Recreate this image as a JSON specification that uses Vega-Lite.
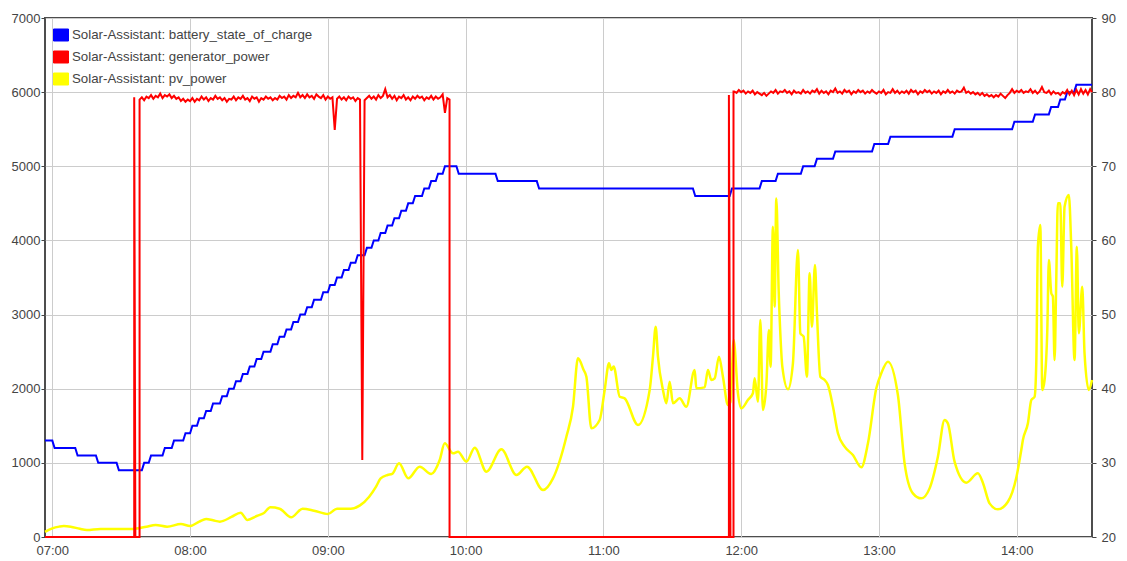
{
  "$schema": "https://vega.github.io/schema/vega-lite/v6.json",
  "description": "Solar-Assistant: battery state of charge, generator power and PV power through the day.",
  "width": 1047,
  "height": 519,
  "autosize": {"type": "none"},
  "padding": {"left": 45, "top": 18, "right": 35, "bottom": 24},
  "datasets": {
    "soc": [
      {"t": "06:56:49", "v": 33}, {"t": "07:00:00", "v": 33}, {"t": "07:01:00", "v": 32}, {"t": "07:10:00", "v": 32},
      {"t": "07:11:00", "v": 31}, {"t": "07:19:00", "v": 31}, {"t": "07:20:00", "v": 30}, {"t": "07:28:00", "v": 30},
      {"t": "07:29:00", "v": 29}, {"t": "07:39:00", "v": 29}, {"t": "07:40:00", "v": 30}, {"t": "07:42:00", "v": 30},
      {"t": "07:43:00", "v": 31}, {"t": "07:48:00", "v": 31}, {"t": "07:49:00", "v": 32}, {"t": "07:52:00", "v": 32},
      {"t": "07:53:00", "v": 33}, {"t": "07:57:00", "v": 33}, {"t": "07:58:00", "v": 34}, {"t": "08:00:00", "v": 34},
      {"t": "08:01:00", "v": 35}, {"t": "08:03:00", "v": 35}, {"t": "08:04:00", "v": 36}, {"t": "08:06:00", "v": 36},
      {"t": "08:07:00", "v": 37}, {"t": "08:09:00", "v": 37}, {"t": "08:10:00", "v": 38}, {"t": "08:13:00", "v": 38},
      {"t": "08:14:00", "v": 39}, {"t": "08:16:00", "v": 39}, {"t": "08:17:00", "v": 40}, {"t": "08:19:00", "v": 40},
      {"t": "08:20:00", "v": 41}, {"t": "08:22:00", "v": 41}, {"t": "08:23:00", "v": 42}, {"t": "08:25:00", "v": 42},
      {"t": "08:26:00", "v": 43}, {"t": "08:28:00", "v": 43}, {"t": "08:29:00", "v": 44}, {"t": "08:31:00", "v": 44},
      {"t": "08:32:00", "v": 45}, {"t": "08:35:00", "v": 45}, {"t": "08:36:00", "v": 46}, {"t": "08:38:00", "v": 46},
      {"t": "08:39:00", "v": 47}, {"t": "08:41:00", "v": 47}, {"t": "08:42:00", "v": 48}, {"t": "08:44:00", "v": 48},
      {"t": "08:45:00", "v": 49}, {"t": "08:47:00", "v": 49}, {"t": "08:48:00", "v": 50}, {"t": "08:50:00", "v": 50},
      {"t": "08:51:00", "v": 51}, {"t": "08:53:00", "v": 51}, {"t": "08:54:00", "v": 52}, {"t": "08:57:00", "v": 52},
      {"t": "08:58:00", "v": 53}, {"t": "09:00:00", "v": 53}, {"t": "09:01:00", "v": 54}, {"t": "09:03:00", "v": 54},
      {"t": "09:04:00", "v": 55}, {"t": "09:06:00", "v": 55}, {"t": "09:07:00", "v": 56}, {"t": "09:09:00", "v": 56},
      {"t": "09:10:00", "v": 57}, {"t": "09:12:00", "v": 57}, {"t": "09:13:00", "v": 58}, {"t": "09:16:00", "v": 58},
      {"t": "09:17:00", "v": 59}, {"t": "09:19:00", "v": 59}, {"t": "09:20:00", "v": 60}, {"t": "09:22:00", "v": 60},
      {"t": "09:23:00", "v": 61}, {"t": "09:25:00", "v": 61}, {"t": "09:26:00", "v": 62}, {"t": "09:28:00", "v": 62},
      {"t": "09:29:00", "v": 63}, {"t": "09:31:00", "v": 63}, {"t": "09:32:00", "v": 64}, {"t": "09:34:00", "v": 64},
      {"t": "09:35:00", "v": 65}, {"t": "09:37:00", "v": 65}, {"t": "09:38:00", "v": 66}, {"t": "09:41:00", "v": 66},
      {"t": "09:42:00", "v": 67}, {"t": "09:44:00", "v": 67}, {"t": "09:45:00", "v": 68}, {"t": "09:47:00", "v": 68},
      {"t": "09:48:00", "v": 69}, {"t": "09:50:00", "v": 69}, {"t": "09:51:00", "v": 70}, {"t": "09:56:00", "v": 70},
      {"t": "09:57:00", "v": 69}, {"t": "10:13:00", "v": 69}, {"t": "10:14:00", "v": 68}, {"t": "10:31:00", "v": 68},
      {"t": "10:32:00", "v": 67}, {"t": "11:39:00", "v": 67}, {"t": "11:40:00", "v": 66}, {"t": "11:55:00", "v": 66},
      {"t": "11:56:00", "v": 67}, {"t": "12:08:00", "v": 67}, {"t": "12:09:00", "v": 68}, {"t": "12:15:00", "v": 68},
      {"t": "12:16:00", "v": 69}, {"t": "12:26:00", "v": 69}, {"t": "12:27:00", "v": 70}, {"t": "12:32:00", "v": 70},
      {"t": "12:33:00", "v": 71}, {"t": "12:40:00", "v": 71}, {"t": "12:41:00", "v": 72}, {"t": "12:57:00", "v": 72},
      {"t": "12:58:00", "v": 73}, {"t": "13:04:00", "v": 73}, {"t": "13:05:00", "v": 74}, {"t": "13:32:00", "v": 74},
      {"t": "13:33:00", "v": 75}, {"t": "13:58:00", "v": 75}, {"t": "13:59:00", "v": 76}, {"t": "14:07:00", "v": 76},
      {"t": "14:08:00", "v": 77}, {"t": "14:14:00", "v": 77}, {"t": "14:15:00", "v": 78}, {"t": "14:18:00", "v": 78},
      {"t": "14:19:00", "v": 79}, {"t": "14:21:00", "v": 79}, {"t": "14:22:00", "v": 80}, {"t": "14:25:00", "v": 80},
      {"t": "14:26:00", "v": 81}, {"t": "14:32:48", "v": 81}
    ],
    "pv": [
      {"t": "06:56:49", "v": 70}, {"t": "07:00:00", "v": 117}, {"t": "07:03:00", "v": 140}, {"t": "07:05:00", "v": 148},
      {"t": "07:08:00", "v": 139}, {"t": "07:12:00", "v": 110}, {"t": "07:15:00", "v": 94}, {"t": "07:21:00", "v": 108},
      {"t": "07:28:00", "v": 108}, {"t": "07:35:00", "v": 108}, {"t": "07:41:00", "v": 139}, {"t": "07:45:00", "v": 162},
      {"t": "07:50:00", "v": 139}, {"t": "07:56:00", "v": 175}, {"t": "08:00:00", "v": 148}, {"t": "08:04:00", "v": 207},
      {"t": "08:07:00", "v": 243}, {"t": "08:10:00", "v": 225}, {"t": "08:13:00", "v": 207}, {"t": "08:18:00", "v": 270},
      {"t": "08:22:00", "v": 328}, {"t": "08:25:00", "v": 229}, {"t": "08:29:00", "v": 283}, {"t": "08:32:00", "v": 320},
      {"t": "08:35:00", "v": 400}, {"t": "08:39:00", "v": 382}, {"t": "08:44:00", "v": 265}, {"t": "08:49:00", "v": 382},
      {"t": "08:54:00", "v": 355}, {"t": "09:00:00", "v": 310}, {"t": "09:04:00", "v": 382}, {"t": "09:10:00", "v": 382},
      {"t": "09:14:00", "v": 427}, {"t": "09:18:00", "v": 544}, {"t": "09:21:00", "v": 680}, {"t": "09:23:00", "v": 791},
      {"t": "09:26:00", "v": 836}, {"t": "09:28:00", "v": 850}, {"t": "09:31:00", "v": 994}, {"t": "09:35:00", "v": 791},
      {"t": "09:40:00", "v": 949}, {"t": "09:45:00", "v": 850}, {"t": "09:48:43", "v": 1038}, {"t": "09:50:54", "v": 1263},
      {"t": "09:54:31", "v": 1128}, {"t": "09:56:41", "v": 1150}, {"t": "10:00:21", "v": 1016}, {"t": "10:03:58", "v": 1205},
      {"t": "10:09:04", "v": 881}, {"t": "10:15:35", "v": 1182}, {"t": "10:22:07", "v": 836}, {"t": "10:26:44", "v": 949},
      {"t": "10:33:42", "v": 634}, {"t": "10:38:03", "v": 791}, {"t": "10:43:53", "v": 1353}, {"t": "10:46:46", "v": 1757},
      {"t": "10:48:56", "v": 2410}, {"t": "10:51:25", "v": 2252}, {"t": "10:52:36", "v": 2162}, {"t": "10:54:46", "v": 1466},
      {"t": "10:58:23", "v": 1578}, {"t": "11:00:34", "v": 1983}, {"t": "11:02:26", "v": 2343}, {"t": "11:03:29", "v": 2252},
      {"t": "11:04:29", "v": 2298}, {"t": "11:07:06", "v": 1892}, {"t": "11:09:16", "v": 1870}, {"t": "11:15:04", "v": 1511},
      {"t": "11:20:10", "v": 1983}, {"t": "11:21:36", "v": 2432}, {"t": "11:22:46", "v": 2836}, {"t": "11:23:46", "v": 2432},
      {"t": "11:25:57", "v": 1983}, {"t": "11:27:26", "v": 1803}, {"t": "11:28:52", "v": 2095}, {"t": "11:30:18", "v": 1803},
      {"t": "11:33:13", "v": 1870}, {"t": "11:36:08", "v": 1757}, {"t": "11:39:45", "v": 2252}, {"t": "11:40:29", "v": 2005},
      {"t": "11:44:06", "v": 2018}, {"t": "11:45:32", "v": 2252}, {"t": "11:47:01", "v": 2117}, {"t": "11:48:28", "v": 2140},
      {"t": "11:50:20", "v": 2432}, {"t": "11:52:04", "v": 2162}, {"t": "11:54:15", "v": 1780}, {"t": "11:55:20", "v": 1820},
      {"t": "11:56:44", "v": 2657}, {"t": "11:58:36", "v": 1938}, {"t": "12:00:05", "v": 1735}, {"t": "12:02:56", "v": 1848},
      {"t": "12:05:07", "v": 1938}, {"t": "12:05:53", "v": 2140}, {"t": "12:07:19", "v": 1825}, {"t": "12:08:21", "v": 2927},
      {"t": "12:09:29", "v": 1713}, {"t": "12:10:58", "v": 2050}, {"t": "12:12:06", "v": 2792}, {"t": "12:12:50", "v": 2297},
      {"t": "12:13:50", "v": 4185}, {"t": "12:14:35", "v": 3106}, {"t": "12:15:19", "v": 4567}, {"t": "12:16:20", "v": 3331},
      {"t": "12:17:12", "v": 2657}, {"t": "12:17:56", "v": 2297}, {"t": "12:20:23", "v": 1993}, {"t": "12:22:33", "v": 2343},
      {"t": "12:24:44", "v": 3871}, {"t": "12:25:47", "v": 2747}, {"t": "12:27:13", "v": 2702}, {"t": "12:28:39", "v": 2162},
      {"t": "12:29:50", "v": 3556}, {"t": "12:30:50", "v": 2836}, {"t": "12:32:08", "v": 3668}, {"t": "12:33:01", "v": 3017},
      {"t": "12:34:29", "v": 2162}, {"t": "12:36:22", "v": 2117}, {"t": "12:37:48", "v": 2050}, {"t": "12:40:00", "v": 1757},
      {"t": "12:42:09", "v": 1399}, {"t": "12:45:04", "v": 1218}, {"t": "12:48:41", "v": 1106}, {"t": "12:52:20", "v": 940},
      {"t": "12:55:13", "v": 1263}, {"t": "12:58:52", "v": 2005}, {"t": "13:01:02", "v": 2208}, {"t": "13:03:55", "v": 2365},
      {"t": "13:08:16", "v": 1915}, {"t": "13:11:11", "v": 994}, {"t": "13:14:48", "v": 589}, {"t": "13:18:28", "v": 521},
      {"t": "13:22:04", "v": 656}, {"t": "13:25:41", "v": 1083}, {"t": "13:28:36", "v": 1578}, {"t": "13:30:02", "v": 1533},
      {"t": "13:32:57", "v": 1016}, {"t": "13:38:03", "v": 733}, {"t": "13:43:06", "v": 859}, {"t": "13:45:16", "v": 733},
      {"t": "13:48:11", "v": 454}, {"t": "13:51:48", "v": 373}, {"t": "13:56:10", "v": 476}, {"t": "13:59:49", "v": 800},
      {"t": "14:02:00", "v": 1173}, {"t": "14:02:42", "v": 1308}, {"t": "14:04:53", "v": 1533}, {"t": "14:06:22", "v": 1848},
      {"t": "14:07:48", "v": 1892}, {"t": "14:08:32", "v": 2343}, {"t": "14:09:14", "v": 3915}, {"t": "14:10:17", "v": 4208},
      {"t": "14:11:09", "v": 1983}, {"t": "14:12:09", "v": 2117}, {"t": "14:13:20", "v": 2792}, {"t": "14:14:01", "v": 3736},
      {"t": "14:15:04", "v": 3287}, {"t": "14:15:46", "v": 3242}, {"t": "14:16:30", "v": 2387}, {"t": "14:17:14", "v": 3466},
      {"t": "14:17:56", "v": 4500}, {"t": "14:18:59", "v": 4500}, {"t": "14:19:51", "v": 3376}, {"t": "14:20:51", "v": 4455},
      {"t": "14:22:43", "v": 4612}, {"t": "14:23:46", "v": 3915}, {"t": "14:25:12", "v": 2387}, {"t": "14:26:12", "v": 3915},
      {"t": "14:27:04", "v": 2747}, {"t": "14:28:33", "v": 3376}, {"t": "14:29:33", "v": 2477}, {"t": "14:31:25", "v": 1983},
      {"t": "14:32:48", "v": 2117}
    ],
    "gen": [
      {"t": "06:56:49", "v": 0}, {"t": "07:35:40", "v": 0}, {"t": "07:35:40", "v": 5930}, {"t": "07:36:10", "v": 0},
      {"t": "07:38:00", "v": 0}, {"t": "07:38:00", "v": 5900},
      {"t": "07:39:00", "v": 5930}, {"t": "07:40:00", "v": 5890}, {"t": "07:41:00", "v": 5940}, {"t": "07:42:00", "v": 5920},
      {"t": "07:43:00", "v": 5960}, {"t": "07:44:00", "v": 5910}, {"t": "07:45:00", "v": 5950}, {"t": "07:46:00", "v": 5930},
      {"t": "07:47:00", "v": 5980}, {"t": "07:48:00", "v": 5920}, {"t": "07:49:00", "v": 5960}, {"t": "07:50:00", "v": 5940},
      {"t": "07:51:00", "v": 5970}, {"t": "07:52:00", "v": 5920}, {"t": "07:53:00", "v": 5950}, {"t": "07:54:00", "v": 5910},
      {"t": "07:55:00", "v": 5930}, {"t": "07:56:00", "v": 5880}, {"t": "07:57:00", "v": 5910}, {"t": "07:58:00", "v": 5870},
      {"t": "07:59:00", "v": 5900}, {"t": "08:00:00", "v": 5880}, {"t": "08:01:00", "v": 5920}, {"t": "08:02:00", "v": 5870},
      {"t": "08:03:00", "v": 5910}, {"t": "08:04:00", "v": 5890}, {"t": "08:05:00", "v": 5940}, {"t": "08:06:00", "v": 5900},
      {"t": "08:07:00", "v": 5930}, {"t": "08:08:00", "v": 5880}, {"t": "08:09:00", "v": 5920}, {"t": "08:10:00", "v": 5900},
      {"t": "08:11:00", "v": 5950}, {"t": "08:12:00", "v": 5910}, {"t": "08:13:00", "v": 5930}, {"t": "08:14:00", "v": 5890},
      {"t": "08:15:00", "v": 5920}, {"t": "08:16:00", "v": 5870}, {"t": "08:17:00", "v": 5910}, {"t": "08:18:00", "v": 5900},
      {"t": "08:19:00", "v": 5940}, {"t": "08:20:00", "v": 5890}, {"t": "08:21:00", "v": 5930}, {"t": "08:22:00", "v": 5910},
      {"t": "08:23:00", "v": 5950}, {"t": "08:24:00", "v": 5900}, {"t": "08:25:00", "v": 5920}, {"t": "08:26:00", "v": 5880},
      {"t": "08:27:00", "v": 5940}, {"t": "08:28:00", "v": 5910}, {"t": "08:29:00", "v": 5930}, {"t": "08:30:00", "v": 5870},
      {"t": "08:31:00", "v": 5920}, {"t": "08:32:00", "v": 5900}, {"t": "08:33:00", "v": 5940}, {"t": "08:34:00", "v": 5910},
      {"t": "08:35:00", "v": 5930}, {"t": "08:36:00", "v": 5890}, {"t": "08:37:00", "v": 5920}, {"t": "08:38:00", "v": 5900},
      {"t": "08:39:00", "v": 5950}, {"t": "08:40:00", "v": 5920}, {"t": "08:41:00", "v": 5940}, {"t": "08:42:00", "v": 5900},
      {"t": "08:43:00", "v": 5960}, {"t": "08:44:00", "v": 5920}, {"t": "08:45:00", "v": 5950}, {"t": "08:46:00", "v": 5930},
      {"t": "08:47:00", "v": 5990}, {"t": "08:48:00", "v": 5930}, {"t": "08:49:00", "v": 5960}, {"t": "08:50:00", "v": 5920},
      {"t": "08:51:00", "v": 5970}, {"t": "08:52:00", "v": 5930}, {"t": "08:53:00", "v": 5950}, {"t": "08:54:00", "v": 5910},
      {"t": "08:55:00", "v": 5970}, {"t": "08:56:00", "v": 5940}, {"t": "08:57:00", "v": 5920}, {"t": "08:58:00", "v": 5960},
      {"t": "08:59:00", "v": 5900}, {"t": "09:00:00", "v": 5940}, {"t": "09:01:00", "v": 5910}, {"t": "09:02:00", "v": 5930},
      {"t": "09:03:00", "v": 5490}, {"t": "09:04:00", "v": 5910}, {"t": "09:05:00", "v": 5940}, {"t": "09:06:00", "v": 5900},
      {"t": "09:07:00", "v": 5930}, {"t": "09:08:00", "v": 5890}, {"t": "09:09:00", "v": 5940}, {"t": "09:10:00", "v": 5910},
      {"t": "09:11:00", "v": 5930}, {"t": "09:12:00", "v": 5880}, {"t": "09:13:00", "v": 5920}, {"t": "09:14:00", "v": 5900},
      {"t": "09:15:00", "v": 1040}, {"t": "09:16:00", "v": 5890}, {"t": "09:17:00", "v": 5920}, {"t": "09:18:00", "v": 5950},
      {"t": "09:19:00", "v": 5910}, {"t": "09:20:00", "v": 5940}, {"t": "09:21:00", "v": 5900}, {"t": "09:22:00", "v": 5960},
      {"t": "09:23:00", "v": 5920}, {"t": "09:24:00", "v": 5950}, {"t": "09:25:00", "v": 6040}, {"t": "09:26:00", "v": 5930},
      {"t": "09:27:00", "v": 5960}, {"t": "09:28:00", "v": 5910}, {"t": "09:29:00", "v": 5950}, {"t": "09:30:00", "v": 5890},
      {"t": "09:31:00", "v": 5940}, {"t": "09:32:00", "v": 5920}, {"t": "09:33:00", "v": 5960}, {"t": "09:34:00", "v": 5900},
      {"t": "09:35:00", "v": 5930}, {"t": "09:36:00", "v": 5890}, {"t": "09:37:00", "v": 5940}, {"t": "09:38:00", "v": 5910},
      {"t": "09:39:00", "v": 5950}, {"t": "09:40:00", "v": 5920}, {"t": "09:41:00", "v": 5940}, {"t": "09:42:00", "v": 5890},
      {"t": "09:43:00", "v": 5930}, {"t": "09:44:00", "v": 5910}, {"t": "09:45:00", "v": 5950}, {"t": "09:46:00", "v": 5900},
      {"t": "09:47:00", "v": 5940}, {"t": "09:48:00", "v": 5910}, {"t": "09:49:00", "v": 5930}, {"t": "09:50:00", "v": 5970},
      {"t": "09:51:00", "v": 5720}, {"t": "09:52:00", "v": 5920}, {"t": "09:53:00", "v": 5900}, {"t": "09:53:00", "v": 0},
      {"t": "11:54:40", "v": 0}, {"t": "11:54:40", "v": 5960}, {"t": "11:55:20", "v": 0}, {"t": "11:56:40", "v": 0},
      {"t": "11:56:40", "v": 6010},
      {"t": "11:57:00", "v": 6010}, {"t": "11:58:00", "v": 5990}, {"t": "11:59:00", "v": 6030}, {"t": "12:00:00", "v": 6000},
      {"t": "12:01:00", "v": 6020}, {"t": "12:02:00", "v": 5980}, {"t": "12:03:00", "v": 6010}, {"t": "12:04:00", "v": 5990},
      {"t": "12:05:00", "v": 6020}, {"t": "12:06:00", "v": 5970}, {"t": "12:07:00", "v": 6000}, {"t": "12:08:00", "v": 5980},
      {"t": "12:09:00", "v": 5960}, {"t": "12:10:00", "v": 5990}, {"t": "12:11:00", "v": 5950}, {"t": "12:12:00", "v": 5980},
      {"t": "12:13:00", "v": 6010}, {"t": "12:14:00", "v": 5990}, {"t": "12:15:00", "v": 6030}, {"t": "12:16:00", "v": 5980},
      {"t": "12:17:00", "v": 6010}, {"t": "12:18:00", "v": 6000}, {"t": "12:19:00", "v": 6030}, {"t": "12:20:00", "v": 5990},
      {"t": "12:21:00", "v": 6010}, {"t": "12:22:00", "v": 5970}, {"t": "12:23:00", "v": 6020}, {"t": "12:24:00", "v": 5990},
      {"t": "12:25:00", "v": 6000}, {"t": "12:26:00", "v": 5980}, {"t": "12:27:00", "v": 6030}, {"t": "12:28:00", "v": 5990},
      {"t": "12:29:00", "v": 6010}, {"t": "12:30:00", "v": 5980}, {"t": "12:31:00", "v": 6020}, {"t": "12:32:00", "v": 6000},
      {"t": "12:33:00", "v": 6040}, {"t": "12:34:00", "v": 5980}, {"t": "12:35:00", "v": 6020}, {"t": "12:36:00", "v": 5990},
      {"t": "12:37:00", "v": 6010}, {"t": "12:38:00", "v": 5970}, {"t": "12:39:00", "v": 6020}, {"t": "12:40:00", "v": 6000},
      {"t": "12:41:00", "v": 6050}, {"t": "12:42:00", "v": 5990}, {"t": "12:43:00", "v": 6010}, {"t": "12:44:00", "v": 5980},
      {"t": "12:45:00", "v": 6030}, {"t": "12:46:00", "v": 6000}, {"t": "12:47:00", "v": 6020}, {"t": "12:48:00", "v": 5970},
      {"t": "12:49:00", "v": 6010}, {"t": "12:50:00", "v": 5990}, {"t": "12:51:00", "v": 6030}, {"t": "12:52:00", "v": 6000},
      {"t": "12:53:00", "v": 6020}, {"t": "12:54:00", "v": 5980}, {"t": "12:55:00", "v": 6010}, {"t": "12:56:00", "v": 5990},
      {"t": "12:57:00", "v": 6030}, {"t": "12:58:00", "v": 6000}, {"t": "12:59:00", "v": 5980}, {"t": "13:00:00", "v": 6010},
      {"t": "13:01:00", "v": 5990}, {"t": "13:02:00", "v": 6030}, {"t": "13:03:00", "v": 5970}, {"t": "13:04:00", "v": 6000},
      {"t": "13:05:00", "v": 5990}, {"t": "13:06:00", "v": 6040}, {"t": "13:07:00", "v": 5990}, {"t": "13:08:00", "v": 6020},
      {"t": "13:09:00", "v": 5980}, {"t": "13:10:00", "v": 6010}, {"t": "13:11:00", "v": 5990}, {"t": "13:12:00", "v": 6020},
      {"t": "13:13:00", "v": 5980}, {"t": "13:14:00", "v": 6030}, {"t": "13:15:00", "v": 6000}, {"t": "13:16:00", "v": 6020},
      {"t": "13:17:00", "v": 5970}, {"t": "13:18:00", "v": 6010}, {"t": "13:19:00", "v": 5990}, {"t": "13:20:00", "v": 6030},
      {"t": "13:21:00", "v": 6000}, {"t": "13:22:00", "v": 6020}, {"t": "13:23:00", "v": 5980}, {"t": "13:24:00", "v": 6010},
      {"t": "13:25:00", "v": 5990}, {"t": "13:26:00", "v": 6020}, {"t": "13:27:00", "v": 5970}, {"t": "13:28:00", "v": 6010},
      {"t": "13:29:00", "v": 5990}, {"t": "13:30:00", "v": 6030}, {"t": "13:31:00", "v": 5990}, {"t": "13:32:00", "v": 6010},
      {"t": "13:33:00", "v": 5980}, {"t": "13:34:00", "v": 6020}, {"t": "13:35:00", "v": 6000}, {"t": "13:36:00", "v": 6010},
      {"t": "13:37:00", "v": 6060}, {"t": "13:38:00", "v": 5990}, {"t": "13:39:00", "v": 6010}, {"t": "13:40:00", "v": 5980},
      {"t": "13:41:00", "v": 6000}, {"t": "13:42:00", "v": 5970}, {"t": "13:43:00", "v": 5990}, {"t": "13:44:00", "v": 5960},
      {"t": "13:45:00", "v": 5990}, {"t": "13:46:00", "v": 5950}, {"t": "13:47:00", "v": 5970}, {"t": "13:48:00", "v": 5940},
      {"t": "13:49:00", "v": 5960}, {"t": "13:50:00", "v": 5930}, {"t": "13:51:00", "v": 5960}, {"t": "13:52:00", "v": 5940},
      {"t": "13:53:00", "v": 5980}, {"t": "13:54:00", "v": 5950}, {"t": "13:55:00", "v": 5920}, {"t": "13:56:00", "v": 5960},
      {"t": "13:57:00", "v": 5990}, {"t": "13:58:00", "v": 6040}, {"t": "13:59:00", "v": 5990}, {"t": "14:00:00", "v": 6020},
      {"t": "14:01:00", "v": 6000}, {"t": "14:02:00", "v": 6030}, {"t": "14:03:00", "v": 5990}, {"t": "14:04:00", "v": 6010},
      {"t": "14:05:00", "v": 6000}, {"t": "14:06:00", "v": 6040}, {"t": "14:07:00", "v": 5990}, {"t": "14:08:00", "v": 6020},
      {"t": "14:09:00", "v": 5980}, {"t": "14:10:00", "v": 6010}, {"t": "14:11:00", "v": 6070}, {"t": "14:12:00", "v": 6000},
      {"t": "14:13:00", "v": 5990}, {"t": "14:14:00", "v": 6020}, {"t": "14:15:00", "v": 5970}, {"t": "14:16:00", "v": 6010},
      {"t": "14:17:00", "v": 5980}, {"t": "14:18:00", "v": 5990}, {"t": "14:19:00", "v": 5960}, {"t": "14:20:00", "v": 6000},
      {"t": "14:21:00", "v": 5980}, {"t": "14:22:00", "v": 6030}, {"t": "14:23:00", "v": 5970}, {"t": "14:24:00", "v": 6020},
      {"t": "14:25:00", "v": 5960}, {"t": "14:26:00", "v": 6030}, {"t": "14:27:00", "v": 5970}, {"t": "14:28:00", "v": 6040},
      {"t": "14:29:00", "v": 5980}, {"t": "14:30:00", "v": 6030}, {"t": "14:31:00", "v": 5970}, {"t": "14:32:00", "v": 6040},
      {"t": "14:32:48", "v": 6000}
    ]
  },
  "resolve": {"scale": {"y": "independent"}},
  "layer": [
    {
      "data": {"name": "soc", "format": {"parse": {"t": "date:'%H:%M:%S'"}}},
      "mark": {"type": "line", "strokeWidth": 2},
      "encoding": {
        "x": {
          "field": "t",
          "type": "temporal",
          "title": null,
          "scale": {"nice": false},
          "axis": {
            "format": "%H:%M",
            "tickCount": 8,
            "ticks": false,
            "labelPadding": 7,
            "labelFlush": false,
            "grid": true
          }
        },
        "y": {
          "field": "v",
          "type": "quantitative",
          "title": null,
          "scale": {"domain": [20, 90], "nice": false, "zero": false},
          "axis": {
            "orient": "right",
            "values": [20, 30, 40, 50, 60, 70, 80, 90],
            "grid": false,
            "tickSize": 4,
            "labelPadding": 5
          }
        },
        "color": {
          "datum": "Solar-Assistant: battery_state_of_charge",
          "type": "nominal",
          "scale": {
            "domain": [
              "Solar-Assistant: battery_state_of_charge",
              "Solar-Assistant: generator_power",
              "Solar-Assistant: pv_power"
            ],
            "range": ["#0000ff", "#ff0000", "#ffff00"]
          },
          "legend": {
            "title": null,
            "orient": "none",
            "legendX": 8,
            "legendY": 9,
            "padding": 0,
            "symbolType": "M-1,-0.8H1V0.8H-1Z",
            "symbolSize": 225,
            "rowPadding": 6,
            "labelOffset": 3,
            "labelLimit": 400,
            "labelFont": "Liberation Sans",
            "labelFontSize": 13.3,
            "labelColor": "#444444",
            "encode": {
              "symbols": {
                "update": {
                  "fill": {"scale": "color", "field": "value"},
                  "stroke": {"value": "#aaaaaa"},
                  "strokeWidth": {"value": 1},
                  "opacity": {"value": 1}
                }
              }
            }
          }
        }
      }
    },
    {
      "layer": [
        {
          "data": {"name": "pv", "format": {"parse": {"t": "date:'%H:%M:%S'"}}},
          "mark": {"type": "line", "strokeWidth": 2.5, "interpolate": "monotone"},
          "encoding": {
            "x": {"field": "t", "type": "temporal"},
            "y": {
              "field": "v",
              "type": "quantitative",
              "title": null,
              "scale": {"domain": [0, 7000], "nice": false},
              "axis": {
                "orient": "left",
                "format": "d",
                "values": [0, 1000, 2000, 3000, 4000, 5000, 6000, 7000],
                "grid": true,
                "tickSize": 4,
                "labelPadding": 1
              }
            },
            "color": {"datum": "Solar-Assistant: pv_power", "type": "nominal"}
          }
        },
        {
          "data": {"name": "gen", "format": {"parse": {"t": "date:'%H:%M:%S'"}}},
          "mark": {"type": "line", "strokeWidth": 2},
          "encoding": {
            "x": {"field": "t", "type": "temporal"},
            "y": {"field": "v", "type": "quantitative"},
            "color": {"datum": "Solar-Assistant: generator_power", "type": "nominal"}
          }
        }
      ]
    }
  ],
  "config": {
    "view": {"stroke": "#4d4d4d", "strokeWidth": 2},
    "axis": {
      "domain": false,
      "labelFont": "Liberation Sans",
      "labelFontSize": 13,
      "labelColor": "#444444",
      "tickColor": "#444444",
      "gridColor": "#cccccc",
      "gridWidth": 1,
      "labelOverlap": false
    }
  }
}
